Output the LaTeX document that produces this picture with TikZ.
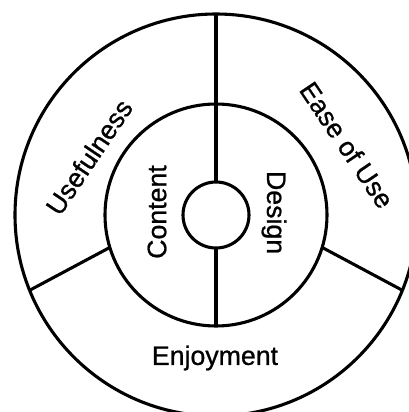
\documentclass[tikz,border=0pt]{standalone}
\usepackage{fontspec}
\setmainfont{Liberation Sans}
\newfontfamily\lblfont[FakeBold=0.8]{Liberation Sans}
\usetikzlibrary{positioning,calc}

\begin{document}
\begin{tikzpicture}

% ---- Styles (plain black rings, sans labels) ----
\tikzset{
  ring/.style={circle, draw, line width=2.2pt, inner sep=0pt, outer sep=0pt},
  rule/.style={line width=2.2pt},
  lbl/.style={font=\lblfont\fontsize{19}{22}\selectfont, inner sep=0pt},
}

\useasboundingbox (-5.4,-4.925) rectangle (4.825,5.375);

% --- Three rings ---
\node[ring, minimum size=10.05cm] (outer) at (0,0) {};
\node[ring, minimum size=5.55cm]  (mid)   at (0,0) {};
\node[ring, minimum size=1.65cm]  (hub)   at (0,0) {};

% --- Dividers ---
\draw[rule] (outer.90) -- (hub.90);
\draw[rule] (hub.270) -- (mid.270);
\draw[rule] (mid.197) -- (outer.202);
\draw[rule] (mid.343) -- (outer.338);

% --- Labels ---
\node[lbl, rotate=56]  (useful)  at (-3.175,1.45)  {Usefulness};
\node[lbl, rotate=-56] (ease)    at (3.275,1.75)   {Ease of Use};
\node[lbl, rotate=90]  (content) at (-1.475,0.075) {Content};
\node[lbl, rotate=-90] (design)  at (1.45,0.06)    {Design};
\node[lbl]             (enjoy)   at (-0.025,-3.575) {Enjoyment};

\end{tikzpicture}
\end{document}
